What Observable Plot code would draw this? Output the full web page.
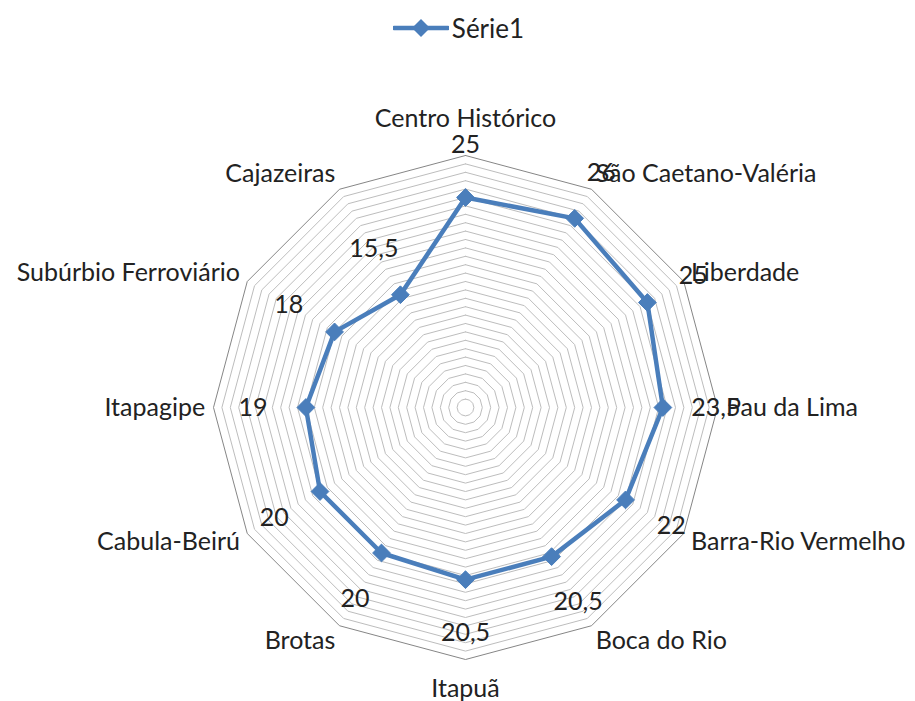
<!DOCTYPE html>
<html>
<head>
<meta charset="utf-8">
<script src="https://cdn.jsdelivr.net/npm/d3@7"></script>
<script src="https://cdn.jsdelivr.net/npm/@observablehq/plot@0.6"></script>
<style>
  html, body { margin: 0; padding: 0; background: #fff; }
  body { width: 915px; height: 701px; overflow: hidden; font-family: Lato, "Open Sans", sans-serif; }
  #legend { height: 56px; display: flex; align-items: center; justify-content: center; gap: 3px; font-size: 26px; color: #222; padding-left: 2px; box-sizing: border-box; }
  #legend svg { display: block; }
  #chart svg { display: block; }
</style>
</head>
<body>
<div id="legend"></div>
<div id="chart"></div>
<script>
// ---- data ----
const categories = ["Centro Histórico", "São Caetano-Valéria", "Liberdade", "Pau da Lima", "Barra-Rio Vermelho", "Boca do Rio", "Itapuã", "Brotas", "Cabula-Beirú", "Itapagipe", "Subúrbio Ferroviário", "Cajazeiras"];
const values = [25, 26, 25, 23.5, 22, 20.5, 20.5, 20, 20, 19, 18, 15.5];
const seriesName = "Série1";
const axisMax = 30;
const gridStep = 1;

// ---- styling ----
const seriesColor = "#4A7EBB";
const gridColor = "#BDBDBD";
const outerGridColor = "#868686";
const textColor = "#222";

const n = categories.length;
const angle = i => i * 2 * Math.PI / n;
const px = (r, i) => r * Math.sin(angle(i));
const py = (r, i) => r * Math.cos(angle(i));

// grid rings
const rings = [];
for (let r = gridStep; r <= axisMax + 1e-9; r += gridStep) {
  for (let i = 0; i <= n; i++) rings.push({ring: r, x: px(r, i % n), y: py(r, i % n)});
}
const innerRings = rings.filter(d => d.ring < axisMax);
const outerRing = rings.filter(d => d.ring === axisMax);

// series
const pts = categories.map((c, i) => ({cat: c, v: values[i], x: px(values[i], i), y: py(values[i], i)}));
const linePts = [...pts, pts[0]];

const fmt = v => String(v).replace(".", ",");
const labelOffset = 6.3;
const valueLabels = pts.map((d, i) => ({text: fmt(d.v), x: px(d.v + labelOffset, i), y: py(d.v + labelOffset, i)}));

// category labels
const catLabels = categories.map((c, i) => {
  const s = Math.sin(angle(i)), co = Math.cos(angle(i));
  const r = axisMax + 1;
  let anchor = Math.abs(s) < 1e-6 ? "middle" : (s > 0 ? "start" : "end");
  let y = py(r, i) + co * 1.1;
  if (Math.abs(s) < 1e-6) y = py(r, i) + (co > 0 ? 3.4 : -2.5);
  return {text: c, x: px(r, i), y, anchor};
});

const chart = Plot.plot({
  width: 915,
  height: 645,
  x: {domain: [-axisMax, axisMax], range: [213, 717], axis: null},
  y: {domain: [-axisMax, axisMax], range: [603, 99], axis: null},
  style: {fontFamily: "Lato, 'Open Sans', sans-serif", fontSize: "25px", color: textColor, background: "#fff"},
  marks: [
    Plot.line(innerRings, {x: "x", y: "y", z: "ring", stroke: gridColor, strokeWidth: 1}),
    Plot.line(outerRing, {x: "x", y: "y", stroke: outerGridColor, strokeWidth: 1}),
    Plot.line(linePts, {x: "x", y: "y", stroke: seriesColor, strokeWidth: 4.5, strokeLinejoin: "round"}),
    Plot.dot(pts, {x: "x", y: "y", symbol: "diamond2", r: 8, fill: seriesColor, stroke: seriesColor, strokeWidth: 1}),
    Plot.text(valueLabels, {x: "x", y: "y", text: "text", fill: textColor, textAnchor: "middle"}),
    Plot.text(catLabels.filter(d => d.anchor === "middle"), {x: "x", y: "y", text: "text", fill: textColor, textAnchor: "middle"}),
    Plot.text(catLabels.filter(d => d.anchor === "start"), {x: "x", y: "y", text: "text", fill: textColor, textAnchor: "start"}),
    Plot.text(catLabels.filter(d => d.anchor === "end"), {x: "x", y: "y", text: "text", fill: textColor, textAnchor: "end"})
  ]
});
document.getElementById("chart").appendChild(chart);

// legend
const leg = document.getElementById("legend");
const ns = "http://www.w3.org/2000/svg";
const ls = document.createElementNS(ns, "svg");
ls.setAttribute("width", 56); ls.setAttribute("height", 20);
const ln = document.createElementNS(ns, "line");
ln.setAttribute("x1", 1); ln.setAttribute("x2", 55); ln.setAttribute("y1", 10); ln.setAttribute("y2", 10);
ln.setAttribute("stroke", seriesColor); ln.setAttribute("stroke-width", 4.5); ln.setAttribute("stroke-linecap", "round");
ls.appendChild(ln);
const dm = document.createElementNS(ns, "path");
dm.setAttribute("d", "M28,1 L37,10 L28,19 L19,10 Z");
dm.setAttribute("fill", seriesColor);
ls.appendChild(dm);
leg.appendChild(ls);
const sp = document.createElement("span");
sp.textContent = seriesName;
leg.appendChild(sp);
</script>
</body>
</html>
